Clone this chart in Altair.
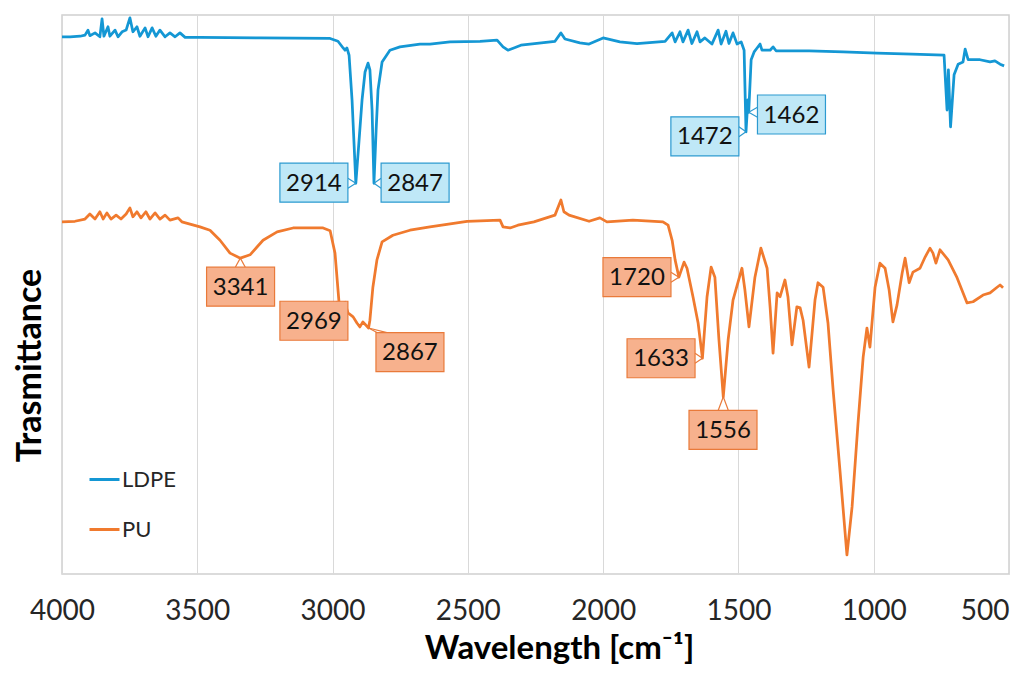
import altair as alt
import pandas as pd

FONT = "Lato"
BLUE = "#1497D4"
ORANGE = "#F07A2E"

# ---------------- data ----------------
ldpe_wn = [4000, 3970, 3933, 3915, 3904, 3897, 3878, 3860, 3852, 3845, 3830, 3823, 3804, 3793,
           3778, 3763, 3749, 3738, 3723, 3712, 3693, 3682, 3667, 3653, 3638, 3619, 3601, 3582,
           3564, 3545, 3490, 3268, 3009, 2980, 2961, 2954, 2947, 2939, 2928, 2914, 2902, 2891,
           2880, 2869, 2862, 2854, 2847, 2839, 2832, 2817, 2788, 2751, 2677, 2640, 2566, 2455,
           2392, 2370, 2352, 2330, 2304, 2178, 2156, 2141, 2086, 2052, 2000, 1938, 1875, 1771,
           1745, 1734, 1716, 1705, 1686, 1672, 1653, 1642, 1624, 1598, 1575, 1564, 1546, 1535,
           1520, 1505, 1490, 1479, 1472, 1465, 1462, 1453, 1442, 1431, 1420, 1413, 1383, 1372,
           1361, 1239, 1113, 988, 858, 740, 729, 724, 716, 703, 688, 670, 662, 651, 607, 570,
           552, 533, 518]
ldpe_t = [96.1, 96.1, 96.2, 96.4, 97.3, 96.3, 96.8, 96.1, 99.3, 96.2, 97.9, 96.2, 97.3, 96.1,
          97.0, 97.3, 99.5, 97.0, 97.9, 96.2, 97.7, 96.1, 97.7, 96.2, 97.3, 96.1, 96.8, 96.1,
          96.8, 96.0, 96.0, 95.9, 95.8, 95.3, 94.1, 93.7, 94.1, 92.8, 84.8, 69.9, 77.6, 84.8,
          89.8, 91.4, 90.2, 83.0, 69.9, 79.4, 86.6, 91.6, 93.7, 94.3, 94.8, 94.8, 95.2, 95.3,
          95.5, 94.3, 93.7, 94.1, 94.6, 95.3, 96.8, 95.7, 95.0, 94.8, 95.9, 95.2, 94.9, 95.3,
          96.8, 95.2, 97.0, 95.2, 97.3, 94.9, 97.0, 95.2, 95.9, 94.8, 97.3, 94.8, 97.1, 94.9,
          96.8, 94.8, 95.2, 93.7, 79.1, 84.8, 82.6, 92.0, 93.4, 94.1, 94.8, 93.7, 93.7, 94.3,
          93.6, 93.6, 93.4, 93.2, 93.0, 92.8, 83.0, 90.2, 80.0, 89.3, 91.2, 91.6, 93.9, 92.0,
          92.0, 91.6, 91.8, 91.2, 90.9]

pu_wn = [4000, 3952, 3915, 3897, 3878, 3860, 3848, 3834, 3819, 3800, 3782, 3763, 3749, 3738,
         3723, 3708, 3690, 3675, 3656, 3638, 3619, 3601, 3571, 3557, 3490, 3453, 3416, 3379,
         3341, 3305, 3257, 3205, 3146, 3035, 3009, 2991, 2976, 2969, 2954, 2943, 2924, 2910,
         2899, 2888, 2867, 2862, 2851, 2836, 2817, 2777, 2714, 2640, 2503, 2381, 2370, 2344,
         2315, 2256, 2178, 2156, 2145, 2126, 2052, 2012, 1986, 1890, 1779, 1760, 1745, 1734,
         1720, 1701, 1690, 1668, 1649, 1633, 1616, 1601, 1587, 1572, 1556, 1538, 1520, 1487,
         1476, 1461, 1439, 1417, 1394, 1383, 1372, 1357, 1346, 1328, 1317, 1302, 1284, 1272,
         1261, 1239, 1217, 1206, 1187, 1169, 1150, 1124, 1099, 1080, 1058, 1039, 1025, 1014,
         995, 977, 958, 943, 929, 914, 895, 884, 869, 855, 829, 810, 792, 781, 770, 755, 725,
         692, 655, 633, 596, 570, 544, 533, 522]
pu_t = [63.0, 63.1, 63.5, 64.4, 63.5, 64.8, 63.5, 64.6, 63.5, 64.2, 63.5, 64.4, 65.5, 63.9,
        64.8, 63.7, 64.8, 63.5, 64.6, 63.5, 64.2, 63.3, 63.7, 63.0, 62.1, 61.5, 59.7, 57.4,
        56.5, 57.1, 59.7, 61.2, 61.9, 61.9, 61.4, 57.4, 48.5, 48.3, 48.5, 46.7, 46.0, 44.9,
        44.2, 45.1, 44.0, 45.4, 51.3, 56.2, 59.4, 60.6, 61.5, 62.1, 63.1, 63.3, 62.1, 61.9,
        62.4, 63.0, 64.2, 66.9, 64.8, 64.2, 63.1, 63.7, 63.0, 63.3, 63.0, 62.4, 59.7, 56.2,
        53.1, 55.8, 54.7, 49.6, 44.9, 38.6, 49.6, 54.9, 53.1, 41.9, 31.7, 41.9, 49.0, 54.7,
        50.8, 44.2, 53.1, 58.3, 54.7, 47.8, 39.5, 50.3, 49.6, 52.6, 49.6, 41.0, 47.8, 47.6,
        45.4, 37.0, 49.0, 52.1, 51.3, 44.9, 32.9, 18.1, 3.4, 12.0, 27.0, 38.8, 44.0, 40.6,
        51.3, 55.6, 54.7, 50.8, 45.1, 48.1, 53.8, 56.5, 52.1, 54.0, 54.7, 56.7, 58.3, 57.4,
        55.6, 58.0, 56.2, 53.0, 48.5, 48.7, 49.9, 50.3, 51.3, 51.7, 51.2]

series_names = ["LDPE", "PU"]
x_ticks = [4000, 3500, 3000, 2500, 2000, 1500, 1000, 500]

ann_label = ["2914", "2847", "1472", "1462", "3341", "2969", "2867", "1720", "1633", "1556"]
ann_series = ["LDPE", "LDPE", "LDPE", "LDPE", "PU", "PU", "PU", "PU", "PU", "PU"]
ann_tip_wn = [2914, 2847, 1472, 1462, 3341, 2969, 2867, 1720, 1633, 1556]
ann_tip_t = [69.9, 69.9, 79.1, 82.6, 56.5, 48.3, 44.0, 53.1, 38.6, 31.7]
ann_box_wn = [3069, 2695, 1624, 1304, 3340, 3069, 2714, 1875, 1786, 1557]
ann_box_t = [70.0, 70.0, 78.3, 82.2, 51.4, 45.3, 39.7, 53.1, 38.6, 25.8]

# ---------------- layout constants ----------------
W, H = 947, 559
PX_WN = W / 3500.0
PX_T = H / 100.0
HW = 34 / PX_WN        # half box width (cm-1)
HH = 19.5 / PX_T       # half box height (T units)

box_fill = {"LDPE": "#BFE8F7", "PU": "#F7B18D"}
box_stroke = {"LDPE": "#2C9AD0", "PU": "#E97A3A"}

lines_df = pd.concat([
    pd.DataFrame({"series": "LDPE", "wn": ldpe_wn, "t": ldpe_t, "o": range(len(ldpe_wn))}),
    pd.DataFrame({"series": "PU", "wn": pu_wn, "t": pu_t, "o": range(len(pu_wn))}),
], ignore_index=True)

boxes = pd.DataFrame({
    "label": ann_label, "series": ann_series,
    "tx": ann_tip_wn, "tt": ann_tip_t, "bx": ann_box_wn, "bt": ann_box_t,
})
boxes["x0"] = boxes["bx"] + HW
boxes["x1"] = boxes["bx"] - HW
boxes["y0"] = boxes["bt"] - HH
boxes["y1"] = boxes["bt"] + HH
boxes["fill"] = boxes["series"].map(box_fill)
boxes["stroke"] = boxes["series"].map(box_stroke)

# pointer segments (box edge -> peak)
segs = []
for _, r in boxes.iterrows():
    dx = (r.bx - r.tx) * PX_WN
    dy = (r.tt - r.bt) * PX_T
    if abs(dx) / 34 >= abs(dy) / 19.5:
        ex = r.bx - (HW if dx > 0 else -HW)
        ty = min(max(r.tt, r.bt - HH + 6 / PX_T), r.bt + HH - 6 / PX_T)
        bases = [(ex, ty - 5 / PX_T), (ex, ty + 5 / PX_T)]
    else:
        ey = r.bt + (HH if dy > 0 else -HH)
        tx = min(max(r.tx, r.bx - HW + 6 / PX_WN), r.bx + HW - 6 / PX_WN)
        bases = [(tx - 5 / PX_WN, ey), (tx + 5 / PX_WN, ey)]
    for bx_, by_ in bases:
        segs.append({"wn": bx_, "t": by_, "wn2": r.tx, "t2": r.tt, "stroke": r.stroke})
segs_df = pd.DataFrame(segs)

xscale = alt.Scale(domain=[500, 4000], reverse=True, nice=False, zero=False)
yscale = alt.Scale(domain=[0, 100], nice=False, zero=False)

x_axis = alt.Axis(
    values=x_ticks, format="d", title="Wavelength [cm⁻¹]",
    labelFont=FONT, labelFontSize=28, labelColor="#262626", labelPadding=45,
    labelBaseline="alphabetic", labelFlush=False, labelOverlap=False,
    labelAlign={"expr": "datum.value === 500 ? 'right' : 'center'"},
    ticks=False, tickSize=0, domain=False,
    grid=True, gridColor="#D9D9D9", gridWidth=1,
    titleFont=FONT, titleFontSize=33, titleFontWeight="bold", titleColor="#000000",
    titleX=497, titleY=84, titleBaseline="alphabetic", titleAlign="center",
)
y_axis = alt.Axis(
    title="Trasmittance", labels=False, ticks=False, domain=False, grid=False,
    titleFont=FONT, titleFontSize=34, titleFontWeight="bold", titleColor="#000000",
    titleAngle=270, titleX=-22, titleY=350, titleAlign="center", titleBaseline="alphabetic",
)

X = lambda f: alt.X(f, scale=xscale, axis=x_axis, title="Wavelength [cm⁻¹]")
Y = lambda f: alt.Y(f, scale=yscale, axis=y_axis, title="Trasmittance")

lines = alt.Chart(lines_df).mark_line(strokeWidth=2.75, strokeJoin="round").encode(
    x=X("wn:Q"),
    y=Y("t:Q"),
    order="o:Q",
    color=alt.Color(
        "series:N",
        scale=alt.Scale(domain=series_names, range=[BLUE, ORANGE]),
        legend=alt.Legend(
            title=None, orient="none", legendX=26, legendY=448, padding=0,
            symbolType="stroke", symbolSize=900, symbolStrokeWidth=3,
            labelFont=FONT, labelFontSize=22, labelColor="#262626",
            rowPadding=22, labelOffset=1,
        ),
    ),
)

rects = alt.Chart(boxes).mark_rect(strokeWidth=1.2).encode(
    x=X("x0:Q"), x2="x1:Q",
    y=Y("y0:Q"), y2="y1:Q",
    fill=alt.Fill("fill:N", scale=None),
    stroke=alt.Stroke("stroke:N", scale=None),
)

pointers = alt.Chart(segs_df).mark_rule(strokeWidth=1.2).encode(
    x=X("wn:Q"), x2="wn2:Q",
    y=Y("t:Q"), y2="t2:Q",
    stroke=alt.Stroke("stroke:N", scale=None),
)

texts = alt.Chart(boxes).mark_text(font=FONT, fontSize=24, color="#111111", baseline="middle", dy=1).encode(
    x=X("bx:Q"),
    y=Y("bt:Q"),
    text="label:N",
)

chart = alt.layer(lines, pointers, rects, texts).properties(
    width=W, height=H,
    autosize=alt.AutoSizeParams(type="none"),
    padding={"left": 54, "top": 7, "right": 18, "bottom": 90},
).configure_view(stroke="#D0D0D0", strokeWidth=1.5)

chart.save("out.html", embed_options={"renderer": "svg", "actions": False})
